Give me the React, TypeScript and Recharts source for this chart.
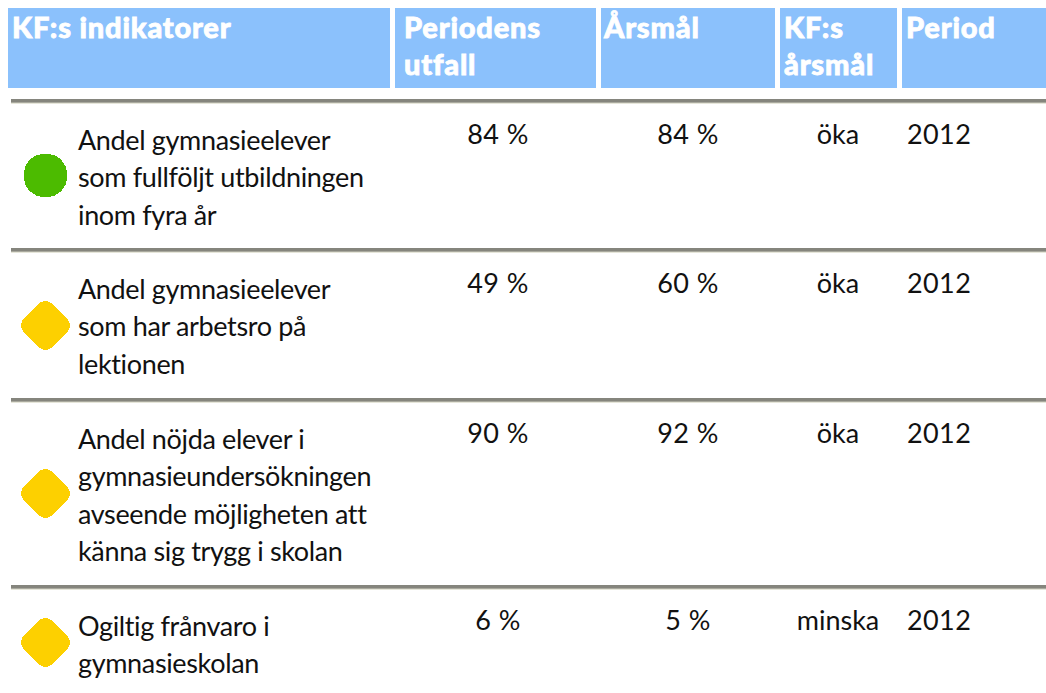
import { ScatterChart, Scatter, XAxis, YAxis, ReferenceArea, ReferenceLine } from 'recharts'

const headers = [['KF:s indikatorer'], ['Periodens', 'utfall'], ['Årsmål'], ['KF:s', 'årsmål'], ['Period']]
const indicators = [
  ['Andel gymnasieelever', 'som fullföljt utbildningen', 'inom fyra år'],
  ['Andel gymnasieelever', 'som har arbetsro på', 'lektionen'],
  ['Andel nöjda elever i', 'gymnasieundersökningen', 'avseende möjligheten att', 'känna sig trygg i skolan'],
  ['Ogiltig frånvaro i', 'gymnasieskolan'],
]
const outcomes = [84, 49, 90, 6]
const targets = [84, 60, 92, 5]
const directions = ['öka', 'öka', 'öka', 'minska']
const periods = ['2012', '2012', '2012', '2012']
const statuses = ['green', 'yellow', 'yellow', 'yellow']

// layout, in axis units (the axes are 1:1 with the picture)
const WIDTH = 1046
const HEIGHT = 693
const headerTop = 8
const headerBottom = 88
const columnEdges = [
  [8, 390],
  [395, 596],
  [601, 775],
  [780, 897],
  [902, 1046],
]
const headerTextX = [12, 404, 604, 784, 906]
const headerBaselines = [38, 75]
const ruleTops = [99, 248, 398, 585]
const markerY = [175.5, 325.5, 493.5, 642.5]
const markerX = 45.5
const indicatorX = 78
const lineHeight = 37.4
const indicatorOffset = 51
const valueOffset = 45
const outcomeX = 498
const targetX = 688
const directionX = 838
const periodX = 907

const FONT = 'Lato, sans-serif'

const headerCells = headers.flatMap((lines, i) =>
  lines.map((text, j) => ({ x: headerTextX[i], y: headerBaselines[j], text })),
)
const indicatorCells = indicators.flatMap((lines, i) =>
  lines.map((text, j) => ({ x: indicatorX, y: ruleTops[i] + indicatorOffset + j * lineHeight, text })),
)
const valueRow = (x: number, labels: string[]) =>
  labels.map((text, i) => ({ x, y: ruleTops[i] + valueOffset, text }))
const outcomeCells = valueRow(outcomeX, outcomes.map((v) => `${v} %`))
const targetCells = valueRow(targetX, targets.map((v) => `${v} %`))
const directionCells = valueRow(directionX, directions)
const periodCells = valueRow(periodX, periods)
const markers = statuses.map((status, i) => ({ x: markerX, y: markerY[i], status }))

const BodyText = (anchor: 'start' | 'middle', spacing: number) => (props: any) => (
  <text
    x={props.cx}
    y={props.cy}
    textAnchor={anchor}
    fontFamily={FONT}
    fontSize={27}
    letterSpacing={spacing}
    fill="#111111"
    style={{ fontVariantLigatures: 'none' }}
  >
    {props.payload.text}
  </text>
)

const HeaderText = (props: any) => (
  <text
    x={props.cx}
    y={props.cy}
    fontFamily={FONT}
    fontSize={29}
    fontWeight={900}
    letterSpacing={0.8}
    fill="#ffffff"
    stroke="#ffffff"
    strokeWidth={0.8}
    style={{ fontVariantLigatures: 'none' }}
  >
    {props.payload.text}
  </text>
)

const StatusMarker = (props: any) => {
  const { cx, cy, payload } = props
  if (payload.status === 'green') {
    return (
      <rect
        x={cx - 21.5}
        y={cy - 21.5}
        width={43}
        height={43}
        rx={20}
        fill="#4cbb00"
        shapeRendering="crispEdges"
      />
    )
  }
  return (
    <path
      d={`M${cx} ${cy - 14.5}L${cx + 14.5} ${cy}L${cx} ${cy + 14.5}L${cx - 14.5} ${cy}Z`}
      fill="#fdd000"
      stroke="#fdd000"
      strokeWidth={20}
      strokeLinejoin="round"
      shapeRendering="crispEdges"
    />
  )
}

export default function App() {
  return (
    <div style={{ position: 'absolute', left: 0, top: 0, width: WIDTH, height: HEIGHT, background: '#fff' }}>
      <ScatterChart width={WIDTH} height={HEIGHT} margin={{ top: 0, right: 0, bottom: 0, left: 0 }}>
        <XAxis type="number" dataKey="x" domain={[0, WIDTH]} hide />
        <YAxis type="number" dataKey="y" domain={[0, HEIGHT]} reversed hide />

        {columnEdges.map(([x1, x2]) => (
          <ReferenceArea key={x1} x1={x1} x2={x2} y1={headerTop} y2={headerBottom} fill="#8bc1fc" fillOpacity={1} stroke="none" />
        ))}
        {ruleTops.map((y) => (
          <ReferenceArea key={y} x1={11} x2={WIDTH} y1={y} y2={y + 3} fill="#85857d" fillOpacity={1} stroke="none" />
        ))}
        {ruleTops.map((y) => (
          <ReferenceLine
            key={`mid-${y}`}
            segment={[{ x: 11, y: y + 3.5 }, { x: WIDTH, y: y + 3.5 }]}
            stroke="#a9a99e"
            strokeWidth={1}
          />
        ))}
        {ruleTops.map((y) => (
          <ReferenceLine
            key={`edge-${y}`}
            segment={[{ x: 11, y: y + 4.5 }, { x: WIDTH, y: y + 4.5 }]}
            stroke="#e6e6da"
            strokeWidth={1}
          />
        ))}

        <Scatter data={headerCells} shape={HeaderText} isAnimationActive={false} />
        <Scatter data={indicatorCells} shape={BodyText('start', -0.35)} isAnimationActive={false} />
        <Scatter data={outcomeCells} shape={BodyText('middle', 0.4)} isAnimationActive={false} />
        <Scatter data={targetCells} shape={BodyText('middle', 0.4)} isAnimationActive={false} />
        <Scatter data={directionCells} shape={BodyText('middle', 0)} isAnimationActive={false} />
        <Scatter data={periodCells} shape={BodyText('start', 0.4)} isAnimationActive={false} />
        <Scatter data={markers} shape={StatusMarker} isAnimationActive={false} />
      </ScatterChart>
    </div>
  )
}
